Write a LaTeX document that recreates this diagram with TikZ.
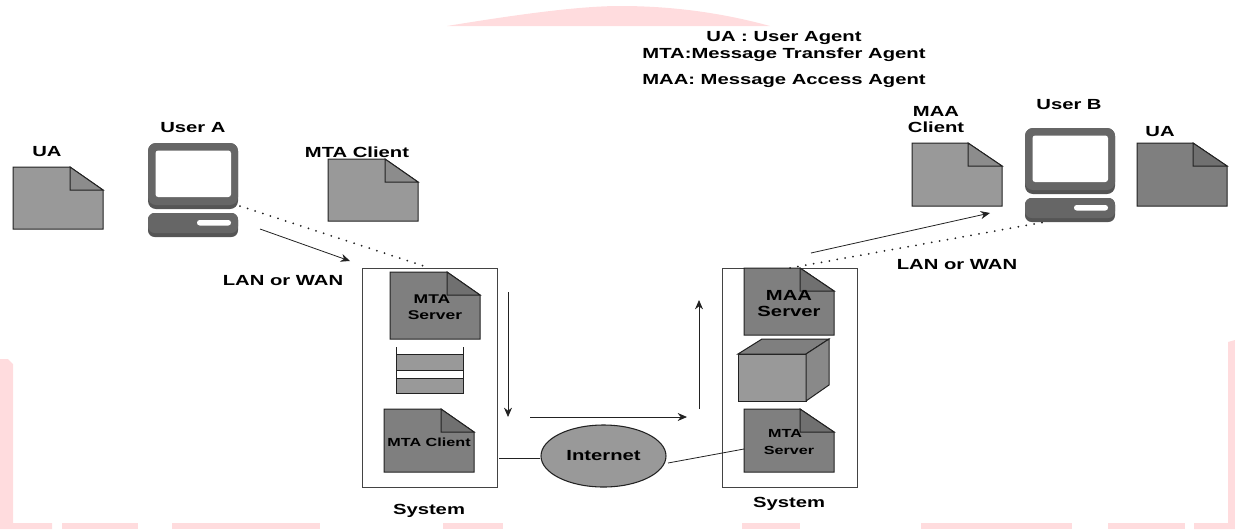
\documentclass[tikz,border=0pt]{standalone}
\usepackage{fontspec}
\setmainfont[FakeStretch=1.38]{Liberation Sans}
\usetikzlibrary{shapes.geometric,arrows.meta}
\definecolor{wm}{HTML}{FFDCDE}
\definecolor{lightdoc}{HTML}{999999}
\definecolor{lightfold}{HTML}{8C8C8C}
\definecolor{darkdoc}{HTML}{7F7F7F}
\definecolor{darkfold}{HTML}{707070}
\definecolor{pcbody}{HTML}{666666}
\definecolor{pcedge}{HTML}{555555}
\definecolor{ink}{HTML}{222222}
\tikzset{
  lbl/.style={inner sep=0pt,yshift=-0.75pt,text=black,font=\fontsize{11pt}{12pt}\selectfont\bfseries,align=center},
  midlbl/.style={inner sep=0pt,yshift=-0.75pt,text=black,font=\fontsize{9.5pt}{11pt}\selectfont\bfseries,align=center},
  smalllbl/.style={inner sep=0pt,yshift=-0.75pt,text=black,font=\fontsize{8.8pt}{11pt}\selectfont\bfseries,align=center},
  outline/.style={draw=ink,line width=0.75pt},
  sysbox/.style={draw=ink!85,line width=0.7pt,fill=white},
  link/.style={draw=ink,line width=0.6pt},
  flow/.style={draw=ink,line width=0.6pt,-{Stealth[length=7pt,width=6pt]}},
  dots/.style={draw=ink,line width=1.5pt,line cap=round,dash pattern=on 0pt off 6pt},
}
% #1 x, #2 y, #3 height, #4 fold x-offset, #5 fill, #6 fold fill
\newcommand{\docshape}[6]{%
  \draw[outline,fill=#5] (#1,#2) -- ++(#4,0) -- ({#1+90},{#2+23}) -- ({#1+90},{#2+#3}) -- (#1,{#2+#3}) -- cycle;
  \draw[outline,fill=#6] ({#1+#4},#2) -- ({#1+90},{#2+23}) -- ({#1+#4},{#2+23}) -- cycle;
}
% #1 x, #2 y of monitor top-left
\newcommand{\pcshape}[2]{%
  \fill[pcedge,rounded corners=6] (#1,#2) rectangle ({#1+90},{#2+66});
  \fill[pcbody,rounded corners=6] (#1,#2) rectangle ({#1+90},{#2+62});
  \fill[white,rounded corners=2] ({#1+7.5},{#2+7.5}) rectangle ({#1+83},{#2+54});
  \fill[pcedge,rounded corners=5] (#1,{#2+70}) rectangle ({#1+90},{#2+94});
  \fill[pcbody,rounded corners=5] (#1,{#2+70}) rectangle ({#1+90},{#2+90});
  \fill[white,rounded corners=2] ({#1+49},{#2+77}) rectangle ({#1+83},{#2+82.5});
}
\begin{document}
\begin{tikzpicture}[x=0.75pt,y=-0.75pt]
\useasboundingbox (0,0) rectangle (1235,529);
% watermark
\fill[wm] (447,26) .. controls (520,14) and (580,6) .. (620,6) .. controls (680,6) and (730,15) .. (770,26) -- cycle;
\fill[wm] (0,359) -- (8,359) -- (13,364) -- (13,523) -- (52,523) -- (52,529) -- (0,529) -- cycle;
\fill[wm] (62,523) rectangle (138,529);
\fill[wm] (172,523) rectangle (320,529);
\fill[wm] (443,523) rectangle (503,529);
\fill[wm] (742,523) rectangle (800,529);
\fill[wm] (921,523) rectangle (1072,529);
\fill[wm] (1108,523) rectangle (1185,529);
\fill[wm] (1194,523) -- (1228,523) -- (1228,342) -- (1235,340) -- (1235,529) -- (1194,529) -- cycle;
% legend
\node[lbl] (legua) at (784,37) {UA : User Agent};
\node[lbl] (legmta) at (784,54) {MTA:Message Transfer Agent};
\node[lbl] (legmaa) at (784,80) {MAA: Message Access Agent};
% left side
\docshape{13}{167}{62}{57}{lightdoc}{lightfold}
\node[lbl] (uaA) at (47,151) {UA};
\pcshape{148}{143}
\node[lbl] (userA) at (193,127) {User A};
\coordinate (pcAdot) at (240,206);
\coordinate (pcAarrow) at (260,229);
\docshape{328}{159}{62}{57}{lightdoc}{lightfold}
\node[lbl] (mtaclientA) at (357,151) {MTA Client};
\node[lbl] (lanA) at (283,280) {LAN or WAN};
% systems
\node[sysbox,minimum width=135*0.75pt,minimum height=219*0.75pt,inner sep=0pt] (sysA) at (429.5,377.5) {};
\node[sysbox,minimum width=135*0.75pt,minimum height=219*0.75pt,inner sep=0pt] (sysB) at (789.5,377.5) {};
\node[lbl] (sysAl) at (429,510) {System};
\node[lbl] (sysBl) at (789,503) {System};
\coordinate (sysAtop) at (430,268);
\coordinate (sysBtop) at (790,268);
% system A content
\docshape{390}{272}{67}{57}{darkdoc}{darkfold}
\node[midlbl] (mtaS1) at (432,298) {MTA};
\node[midlbl] (mtaS2) at (435,314) {Server};
\fill[lightdoc] (396,354) rectangle (463,370);
\fill[lightdoc] (396,378) rectangle (463,393);
\draw[outline] (396,347) -- (396,393) -- (463,393) -- (463,347);
\draw[outline] (396,354) -- (463,354) (396,370) -- (463,370) (396,378) -- (463,378);
\docshape{384}{409}{63}{57}{darkdoc}{darkfold}
\node[smalllbl] (mtaC) at (429,441) {MTA Client};
% system B content
\docshape{744}{268}{67}{56}{darkdoc}{darkfold}
\node[lbl] (maaS1) at (789,294) {MAA};
\node[lbl] (maaS2) at (789,310) {Server};
\draw[outline,fill=lightdoc] (738,354) rectangle (806,401);
\draw[outline,fill=darkdoc] (738,354) -- (762,339) -- (829,339) -- (806,354) -- cycle;
\draw[outline,fill=darkdoc!60!lightdoc] (806,354) -- (829,339) -- (829,385) -- (806,401) -- cycle;
\docshape{744}{409}{63}{56}{darkdoc}{darkfold}
\node[smalllbl] (mtaR1) at (785,432) {MTA};
\node[smalllbl] (mtaR2) at (789,449) {Server};
% internet
\node[ellipse,draw=ink,line width=0.8pt,fill=lightdoc,minimum width=125*0.75pt,minimum height=62*0.75pt,inner sep=0pt,font=\fontsize{11pt}{12pt}\selectfont\bfseries] (net) at (603.5,456) {Internet};
\coordinate (sysAout) at (499,458);
\coordinate (netR) at (668,463);
\coordinate (mtaRin) at (744,449);
\draw[link] (sysAout) -- (net.west |- sysAout);
\draw[link] (netR) -- (mtaRin);
% arrows
\coordinate (dn1) at (508,292); \coordinate (dn2) at (508,417);
\coordinate (rt1) at (530,417); \coordinate (rt2) at (687,417);
\coordinate (up1) at (699,409); \coordinate (up2) at (699,300);
\draw[flow] (dn1) -- (dn2);
\draw[flow] (rt1) -- (rt2);
\draw[flow] (up1) -- (up2);
\coordinate (lanAend) at (350,261);
\draw[flow] (pcAarrow) -- (lanAend);
\draw[dots] (pcAdot) -- (sysAtop);
% right side
\docshape{912}{143}{63}{56}{lightdoc}{lightfold}
\node[lbl] (maaC) at (936,119) {MAA\\Client};
\pcshape{1025}{128}
\node[lbl] (userB) at (1069,104) {User B};
\docshape{1137}{143}{63}{56}{darkdoc}{darkfold}
\node[lbl] (uaB) at (1160,131) {UA};
\node[lbl] (lanB) at (957,264) {LAN or WAN};
\coordinate (lanB1) at (811,253); \coordinate (lanB2) at (990,213);
\coordinate (pcBdot) at (1045,222);
\draw[flow] (lanB1) -- (lanB2);
\draw[dots] (sysBtop) -- (pcBdot);
\end{tikzpicture}
\end{document}
